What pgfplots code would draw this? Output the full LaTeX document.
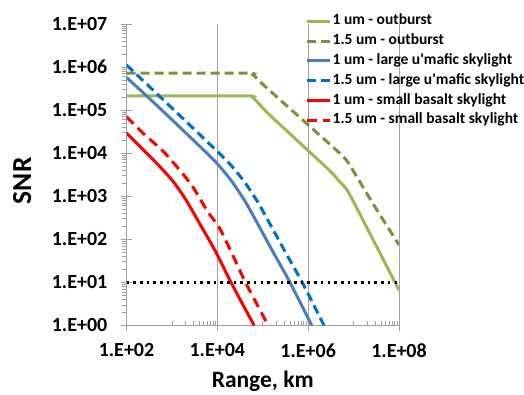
\documentclass[border=0pt]{standalone}
\usepackage{fontspec}
\setmainfont{Carlito}
\newfontfamily\plainfont{Carlito}
\usepackage{pgfplots}
\pgfplotsset{compat=1.18}
\definecolor{gsolid}{HTML}{98B954}
\definecolor{gdash}{HTML}{77933C}
\definecolor{bsolid}{HTML}{4A7EBB}
\definecolor{bdash}{HTML}{0070C0}
\definecolor{axgray}{HTML}{A0A0A0}
\newcommand{\apos}{{\plainfont\bfseries '}}
\begin{document}
\begin{tikzpicture}
\begin{axis}[
  scale only axis, width=272.5pt, height=301.5pt,
  xmode=log, ymode=log,
  xmin=100, xmax=1e8, ymin=1, ymax=1e7,
  axis lines*=left,
  axis line style={draw=axgray, line width=0.8pt, -},
  xtick={1e2,1e4,1e6,1e8},
  xticklabels={1.E+02,1.E+04,1.E+06,1.E+08},
  ytick={1,10,100,1e3,1e4,1e5,1e6,1e7},
  yticklabels={1.E+00,1.E+01,1.E+02,1.E+03,1.E+04,1.E+05,1.E+06,1.E+07},
  minor xtick={1e3,2e3,3e3,4e3,5e3,6e3,7e3,8e3,9e3,1e5,2e5,3e5,4e5,5e5,6e5,7e5,8e5,9e5,1e7,2e7,3e7,4e7,5e7,6e7,7e7,8e7,9e7},
  minor ytick={2,3,4,5,6,7,8,9,20,30,40,50,60,70,80,90,200,300,400,500,600,700,800,900,2e3,3e3,4e3,5e3,6e3,7e3,8e3,9e3,2e4,3e4,4e4,5e4,6e4,7e4,8e4,9e4,2e5,3e5,4e5,5e5,6e5,7e5,8e5,9e5,2e6,3e6,4e6,5e6,6e6,7e6,8e6,9e6},
  xmajorgrids,
  major grid style={draw=axgray, line width=0.8pt},
  tick style={draw=axgray, line width=0.8pt},
  tick align=center, major tick length=12pt, minor tick length=5pt,
  minor x tick style={yshift=2.5pt},
  minor y tick style={xshift=-2.5pt},
  ticklabel style={font=\fontsize{20}{24}\selectfont\bfseries},
  yticklabel style={anchor=east, inner sep=0pt, xshift=-13pt},
  xticklabel style={anchor=north, inner sep=0pt, yshift=-12pt},
  xlabel={Range, km},
  ylabel={SNR},
  xlabel style={at={(axis description cs:0.5,-0.207)}, anchor=base, font=\fontsize{23.5}{28}\selectfont\bfseries},
  ylabel style={at={(axis description cs:-0.383,0.480)}, anchor=center, rotate=0, font=\fontsize{27.5}{32}\selectfont\bfseries},
  legend style={at={(0.655,1.034)}, anchor=north west, draw=none, fill=none,
    font=\fontsize{15.5}{18}\selectfont\bfseries, inner xsep=0pt, inner ysep=0pt,
    row sep=5.3pt, nodes={inner xsep=1.5pt, inner ysep=0pt, text height=11pt, text depth=3.5pt}},
  legend cell align=left,
  legend image code/.code={\draw[#1] (0pt,0pt) -- (23pt,0pt);},
  every axis plot/.append style={line width=3pt},
]
\addplot[gsolid, smooth, tension=0.3] coordinates {(100,2.14e5) (4.79e4,2.14e5) (6.03e4,1.95e5) (7.59e4,1.55e5) (1.38e5,7.94e4) (2.82e6,4.17e3) (5.01e6,2.14e3) (8.13e6,1.12e3) (1e8,6.6)};
\addlegendentry{1 um - outburst}
\addplot[gdash, dash pattern=on 9pt off 5pt, smooth, tension=0.3] coordinates {(100,7.24e5) (4.79e4,7.24e5) (6.03e4,6.61e5) (7.59e4,5.37e5) (1e5,3.98e5) (3.8e6,1.29e4) (7.41e6,6.31e3) (2.63e7,692) (1e8,74.1)};
\addlegendentry{1.5 um - outburst}
\addplot[bsolid, smooth, tension=0.4] coordinates {(100,5.75e5) (537,1.12e5) (5.37e3,1.10e4) (1.07e4,5.25e3) (2.14e4,2.14e3) (4.27e4,708) (8.51e4,191) (1.70e5,50.1) (3.98e5,10) (1.20e6,1)};
\addlegendentry{1 um - large u\apos mafic skylight}
\addplot[bdash, dash pattern=on 9pt off 5pt, smooth, tension=0.4] coordinates {(100,1.12e6) (1e3,1.12e5) (1e4,1.10e4) (2.0e4,5.25e3) (3.98e4,2.14e3) (7.94e4,708) (1.58e5,191) (3.16e5,50.1) (7.41e5,10) (2.24e6,1)};
\addlegendentry{1.5 um - large u\apos mafic skylight}
\addplot[red, smooth, tension=0.4] coordinates {(100,2.95e4) (457,5.89e3) (1.07e3,2.19e3) (2.0e3,851) (4.07e3,234) (9.55e3,47.9) (2.0e4,10) (6.46e4,1)};
\addlegendentry{1 um - small basalt skylight}
\addplot[red, dash pattern=on 10pt off 6pt, smooth, tension=0.4] coordinates {(100,7.08e4) (234,2.88e4) (646,1.10e4) (1.48e3,4.07e3) (2.88e3,1.66e3) (6.17e3,437) (1.12e4,182) (2.19e4,42.7) (4.17e4,10) (1.32e5,1)};
\addlegendentry{1.5 um - small basalt skylight}
\addplot[black, line width=2.6pt, dash pattern=on 2.6pt off 4.1pt, forget plot] coordinates {(100,10) (1e8,10)};
\end{axis}
\pgfresetboundingbox
\path[use as bounding box] (current axis.south west) ++(-126.5pt,-68.5pt) rectangle ++(524pt,394pt);
\end{tikzpicture}
\end{document}
